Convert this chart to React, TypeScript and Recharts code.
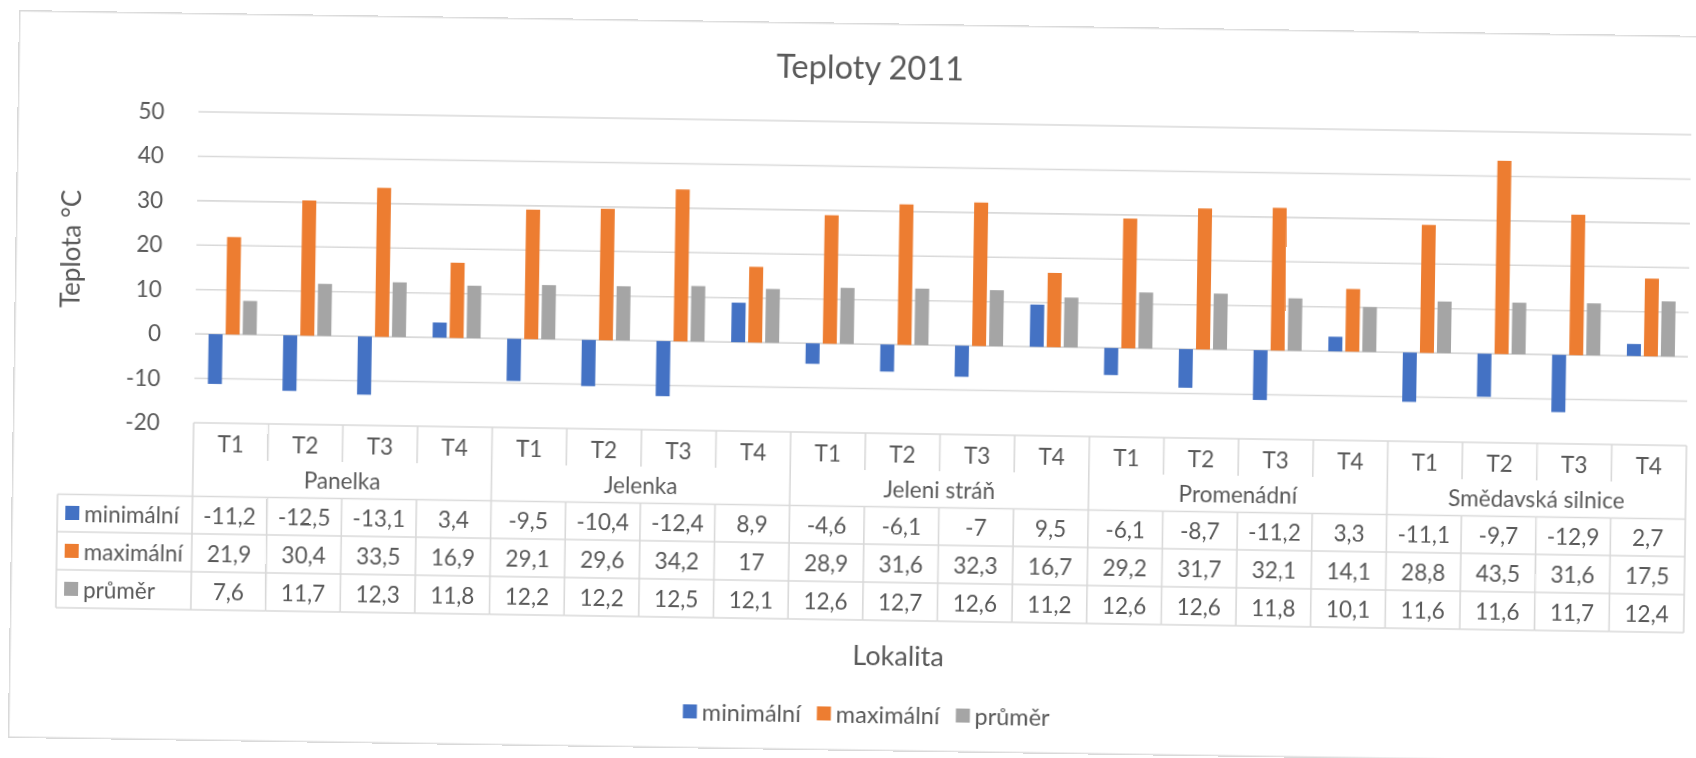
import React from 'react';
import { BarChart, Bar, XAxis, YAxis, CartesianGrid } from 'recharts';

const locations = ['Panelka', 'Jelenka', 'Jeleni stráň', 'Promenádní', 'Smědavská silnice'];
const points = ['T1', 'T2', 'T3', 'T4'];

const minimalni = [-11.2, -12.5, -13.1, 3.4, -9.5, -10.4, -12.4, 8.9, -4.6, -6.1, -7, 9.5, -6.1, -8.7, -11.2, 3.3, -11.1, -9.7, -12.9, 2.7];
const maximalni = [21.9, 30.4, 33.5, 16.9, 29.1, 29.6, 34.2, 17, 28.9, 31.6, 32.3, 16.7, 29.2, 31.7, 32.1, 14.1, 28.8, 43.5, 31.6, 17.5];
const prumer = [7.6, 11.7, 12.3, 11.8, 12.2, 12.2, 12.5, 12.1, 12.6, 12.7, 12.6, 11.2, 12.6, 12.6, 11.8, 10.1, 11.6, 11.6, 11.7, 12.4];

const yTicks = [-20, -10, 0, 10, 20, 30, 40, 50];

const series = [
  { key: 'min', name: 'minimální', color: '#4472C4', values: minimalni },
  { key: 'max', name: 'maximální', color: '#ED7D31', values: maximalni },
  { key: 'avg', name: 'průměr', color: '#A5A5A5', values: prumer },
];

const data = locations.flatMap((loc, li) =>
  points.map((pt, pi) => {
    const i = li * points.length + pi;
    const row: any = { id: `${loc}|${pt}`, point: pt, location: loc };
    series.forEach(s => { row[s.key] = s.values[i]; });
    return row;
  })
);

// layout (unrotated frame)
const W = 1720;
const H = 728;
const PLOT_L = 181;
const PLOT_R = 1674;
const PLOT_T = 99;
const PLOT_B = 410;
const YAXIS_W = 80;
const XAXIS_H = 200;
const CW = (PLOT_R - PLOT_L) / data.length;
const LEG_COL = 135;

const FONT = 'Lato, "Open Sans", sans-serif';
const TXT = '#595959';
const LINE = '#d9d9d9';
const FS = 22.5;

// row offsets below the axis line
const HEAD_SHORT = 37;
const HEAD_FULL = 73.5;
const ROW_LINES = [73.5, 111, 149, 187];
const ROW_MID = [92, 130, 168];

const fmt = (v: number) => String(v).replace('.', ',');

const TableTick = (props: any) => {
  const { x, y } = props;
  const i = props.index ?? props.payload?.index ?? 0;
  const row = data[i];
  const left = x - CW / 2;
  const right = x + CW / 2;
  const groupStart = i % points.length === 0;
  const textProps = {
    fill: TXT, fontSize: FS, fontFamily: FONT,
    textAnchor: 'middle' as const, dominantBaseline: 'central' as const,
  };
  return (
    <g>
      <text x={x} y={y + 20} {...textProps}>{row.point}</text>
      <line x1={left} x2={left} y1={y} y2={y + (groupStart ? HEAD_FULL : HEAD_SHORT)} stroke={LINE} strokeWidth={1.6} />
      <line x1={left} x2={left} y1={y + HEAD_FULL} y2={y + ROW_LINES[3]} stroke={LINE} strokeWidth={1.6} />
      {i === data.length - 1 && (
        <line x1={right} x2={right} y1={y} y2={y + ROW_LINES[3]} stroke={LINE} strokeWidth={1.6} />
      )}
      {i % points.length === 1 && (
        <text x={right} y={y + 55} {...textProps}>{row.location}</text>
      )}
      {ROW_LINES.map(d => (
        <line key={d} x1={left} x2={right} y1={y + d} y2={y + d} stroke={LINE} strokeWidth={1.6} />
      ))}
      {series.map((s, si) => (
        <text key={s.key} x={x} y={y + ROW_MID[si]} {...textProps}>{fmt(row[s.key])}</text>
      ))}
      {i === 0 && (
        <g>
          {ROW_LINES.map(d => (
            <line key={d} x1={left - LEG_COL} x2={left} y1={y + d} y2={y + d} stroke={LINE} strokeWidth={1.6} />
          ))}
          <line x1={left - LEG_COL} x2={left - LEG_COL} y1={y + HEAD_FULL} y2={y + ROW_LINES[3]} stroke={LINE} strokeWidth={1.6} />
          {series.map((s, si) => (
            <g key={s.key}>
              <rect x={left - LEG_COL + 8} y={y + ROW_MID[si] - 7} width={14} height={14} fill={s.color} />
              <text x={left - LEG_COL + 27} y={y + ROW_MID[si]} {...textProps} textAnchor="start">{s.name}</text>
            </g>
          ))}
        </g>
      )}
    </g>
  );
};

export default function App() {
  return (
    <div
      style={{
        position: 'fixed', left: 19, top: 10, width: W, height: H,
        transform: 'rotate(0.88deg)', transformOrigin: '0 0',
        background: '#fff', boxShadow: `inset 0 0 0 1.5px ${LINE}`,
        fontFamily: FONT, color: TXT,
      }}
    >
      <div style={{ position: 'absolute', left: 852, top: 42.5, transform: 'translate(-50%, -50%)', fontSize: 32.5, whiteSpace: 'nowrap' }}>
        Teploty 2011
      </div>
      <div style={{ position: 'absolute', left: 55, top: 238, transform: 'translate(-50%, -50%) rotate(-90deg)', fontSize: 26, whiteSpace: 'nowrap' }}>
        Teplota °C
      </div>
      <div style={{ position: 'absolute', left: 889, top: 631, transform: 'translate(-50%, -50%)', fontSize: 27, whiteSpace: 'nowrap' }}>
        Lokalita
      </div>
      <div style={{ position: 'absolute', left: 858, top: 691, transform: 'translate(-50%, -50%)', display: 'flex', alignItems: 'center', gap: 16, fontSize: 23.5, whiteSpace: 'nowrap' }}>
        {series.map(s => (
          <div key={s.key} style={{ display: 'flex', alignItems: 'center', gap: 5 }}>
            <span style={{ width: 14, height: 14, background: s.color, display: 'inline-block' }} />
            <span>{s.name}</span>
          </div>
        ))}
      </div>
      <div style={{ position: 'absolute', left: 0, top: 0 }}>
        <BarChart
          width={W}
          height={H}
          data={data}
          margin={{ top: PLOT_T, right: W - PLOT_R, left: PLOT_L - YAXIS_W, bottom: H - PLOT_B - XAXIS_H }}
          barCategoryGap="18.2%"
          barGap={3}
        >
          <CartesianGrid vertical={false} stroke={LINE} strokeWidth={1.6} />
          <YAxis
            type="number"
            domain={[-20, 50]}
            ticks={yTicks}
            interval={0}
            width={YAXIS_W}
            axisLine={false}
            tickLine={false}
            tickSize={0}
            tickMargin={34}
            tick={{ fill: TXT, fontSize: FS, fontFamily: FONT }}
          />
          <XAxis
            dataKey="id"
            height={XAXIS_H}
            interval={0}
            axisLine={false}
            tickLine={false}
            tickSize={0}
            tickMargin={0}
            tick={(p: any) => <TableTick {...p} />}
          />
          {series.map(s => (
            <Bar key={s.key} dataKey={s.key} name={s.name} fill={s.color} isAnimationActive={false} />
          ))}
        </BarChart>
      </div>
    </div>
  );
}
